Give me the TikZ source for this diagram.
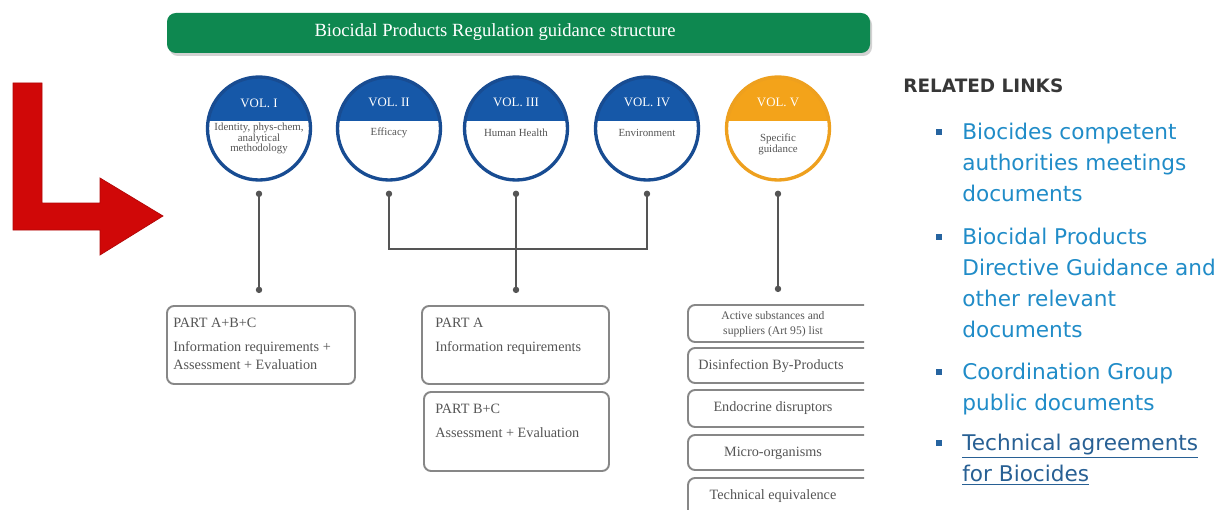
\documentclass[tikz,border=0pt]{standalone}
\usepackage{fontspec}
\setmainfont{Liberation Serif}
\newfontfamily\linkfont{DejaVu Sans}
\usetikzlibrary{arrows.meta}
\newcommand\pxu{0.02cm}
\definecolor{bannergreen}{RGB}{14,136,80}
\definecolor{volblue}{RGB}{22,88,168}
\definecolor{volblueedge}{RGB}{24,76,146}
\definecolor{volorange}{RGB}{243,163,26}
\definecolor{volorangeedge}{RGB}{238,160,30}
\definecolor{arrowred}{RGB}{208,8,8}
\definecolor{boxedge}{RGB}{135,135,135}
\definecolor{boxtext}{RGB}{85,85,85}
\definecolor{connline}{RGB}{85,85,85}
\definecolor{linkblue}{RGB}{32,140,200}
\definecolor{linkdark}{RGB}{40,96,148}
\definecolor{bulletblue}{RGB}{38,100,160}
\definecolor{headgray}{RGB}{55,55,55}
\begin{document}
\begin{tikzpicture}[x=0.02cm,y=-0.02cm,
  banner/.style={fill=bannergreen, rounded corners=5pt, minimum width=703*\pxu,
    minimum height=40*\pxu, inner sep=0pt},
  bannertext/.style={text=white, inner sep=0pt, font=\fontsize{10.6}{12}\selectfont},
  vol/.style 2 args={circle, draw=#2, line width=1.9pt, minimum size=103*\pxu,
    inner sep=0pt, fill=white,
    path picture={\fill[#1] ([xshift=-5pt,yshift=5pt]path picture bounding box.north west)
      rectangle ([xshift=5pt,yshift=7*\pxu]path picture bounding box.east);}},
  voltitle/.style={text=white, font=\fontsize{7.3}{8}\selectfont, inner sep=0pt},
  voltext/.style={text=boxtext, font=\fontsize{6.2}{6.1}\selectfont, align=center, inner sep=0pt},
  partbox/.style={draw=boxedge, line width=1.1pt, rounded corners=4pt, inner sep=0pt},
  parttext/.style={text=boxtext, font=\fontsize{8.1}{10.2}\selectfont, align=left,
    anchor=base west, inner sep=0pt},
  sidetext/.style={text=boxtext, font=\fontsize{8.1}{8.5}\selectfont, align=center, inner sep=0pt},
  conn/.style={draw=connline, line width=0.75pt},
  dots/.style={{Circle[length=3.6pt]}-{Circle[length=3.6pt]}},
  dotstart/.style={{Circle[length=3.6pt]}-},
  linktext/.style={font=\linkfont\fontsize{12.3}{17.7}\selectfont, align=left,
    anchor=base west, inner sep=0pt},
  bulletsq/.style={fill=bulletblue, minimum size=6.5*\pxu, inner sep=0pt}
]
\useasboundingbox (0,0) rectangle (1224,510);
\fill[white] (0,0) rectangle (1224,510);

% red L arrow
\fill[arrowred, draw=arrowred!85!black, line width=0.4pt]
  (13,83) -- (42,83) -- (42,203) -- (100,203) -- (100,178) -- (163,216)
  -- (100,255) -- (100,230) -- (13,230) -- cycle;

% banner
\fill[gray!35, rounded corners=5pt] (169,16) rectangle (872,56);
\node[banner] (title) at (518.5,33) {};
\node[bannertext] (titletext) at (495,32) {Biocidal Products Regulation guidance structure};

% volumes
\node[vol={volblue}{volblueedge}] (vI) at (259,128.5) {};
\node[vol={volblue}{volblueedge}] (vII) at (389,128.5) {};
\node[vol={volblue}{volblueedge}] (vIII) at (516,128.5) {};
\node[vol={volblue}{volblueedge}] (vIV) at (647,128.5) {};
\node[vol={volorange}{volorangeedge}] (vV) at (778,128.5) {};

\node[voltitle] (tI) at (259,103) {VOL. I};
\node[voltitle] (tII) at (389,102) {VOL. II};
\node[voltitle] (tIII) at (516,102) {VOL. III};
\node[voltitle] (tIV) at (647,102) {VOL. IV};
\node[voltitle] (tV) at (778,102) {VOL. V};

\node[voltext] (dI) at (259,138.5) {Identity, phys-chem,\\analytical\\methodology};
\node[voltext] (dII) at (389,133) {Efficacy};
\node[voltext] (dIII) at (516,133) {Human Health};
\node[voltext] (dIV) at (647,133) {Environment};
\node[voltext] (dV) at (778,144) {Specific\\guidance};

% part boxes
\node[partbox, minimum width=188*\pxu, minimum height=78*\pxu] (b1) at (261,345) {};
\node[parttext] (b1t) at (173,369) {PART A+B+C\\[3.4pt]Information requirements +\\Assessment + Evaluation};

\node[partbox, minimum width=187*\pxu, minimum height=78*\pxu] (pA) at (515.5,345) {};
\node[parttext] (pAt) at (435,351) {PART A\\[3.4pt]Information requirements};

\node[partbox, minimum width=185*\pxu, minimum height=79*\pxu] (pBC) at (516.5,431.5) {};
\node[parttext] (pBCt) at (435,437) {PART B+C\\[3pt]Assessment + Evaluation};

% specific guidance boxes (cut at the right)
\begin{scope}
\clip (600,280) rectangle (864,512);
\node[partbox, minimum width=212*\pxu, minimum height=37*\pxu] (s1) at (794,323.5) {};
\node[partbox, minimum width=212*\pxu, minimum height=35*\pxu] (s2) at (794,365.5) {};
\node[partbox, minimum width=212*\pxu, minimum height=37*\pxu] (s3) at (794,408.5) {};
\node[partbox, minimum width=212*\pxu, minimum height=35*\pxu] (s4) at (794,452.5) {};
\node[partbox, minimum width=212*\pxu, minimum height=40*\pxu] (s5) at (794,498) {};
\end{scope}
\node[sidetext, font=\fontsize{6.6}{8.4}\selectfont] (s1t) at (773,324) {Active substances and\\suppliers (Art 95) list};
\node[sidetext] (s2t) at (771,366) {Disinfection By-Products};
\node[sidetext] (s3t) at (773,408) {Endocrine disruptors};
\node[sidetext] (s4t) at (773,453) {Micro-organisms};
\node[sidetext] (s5t) at (773,496) {Technical equivalence};

% connectors
\coordinate (j) at (516,249);
\draw[conn, dots, shorten <=0.18cm, shorten >=0.24cm] (vI.south) -- (vI.south |- b1.north);
\draw[conn, dotstart, shorten <=0.18cm] (vII.south) |- (j);
\draw[conn, dotstart, shorten <=0.18cm] (vIV.south) |- (j);
\draw[conn, dots, shorten <=0.18cm, shorten >=0.24cm] (vIII.south) -- (vIII.south |- pA.north);
\draw[conn, dots, shorten <=0.18cm, shorten >=0.24cm] (vV.south) -- (vV.south |- s1.north);

% related links
\node[font=\linkfont\bfseries\fontsize{10.5}{12}\selectfont, text=headgray, anchor=base west, inner sep=0pt]
  (rl) at (903,92) {RELATED LINKS};

\node[bulletsq] (q1) at (939,132) {};
\node[bulletsq] (q2) at (939,237) {};
\node[bulletsq] (q3) at (939,372) {};
\node[bulletsq] (q4) at (939,443) {};

\node[linktext, text=linkblue] (l1) at (962,201.4) {Biocides competent\\authorities meetings\\documents};
\node[linktext, text=linkblue] (l2) at (962,337.6) {Biocidal Products\\Directive Guidance and\\other relevant\\documents};
\node[linktext, text=linkblue] (l3) at (962,410.2) {Coordination Group\\public documents};
\node[linktext, text=linkdark] (l4) at (962,481.2) {\underline{Technical agreements}\\\underline{for Biocides}};
\end{tikzpicture}
\end{document}
